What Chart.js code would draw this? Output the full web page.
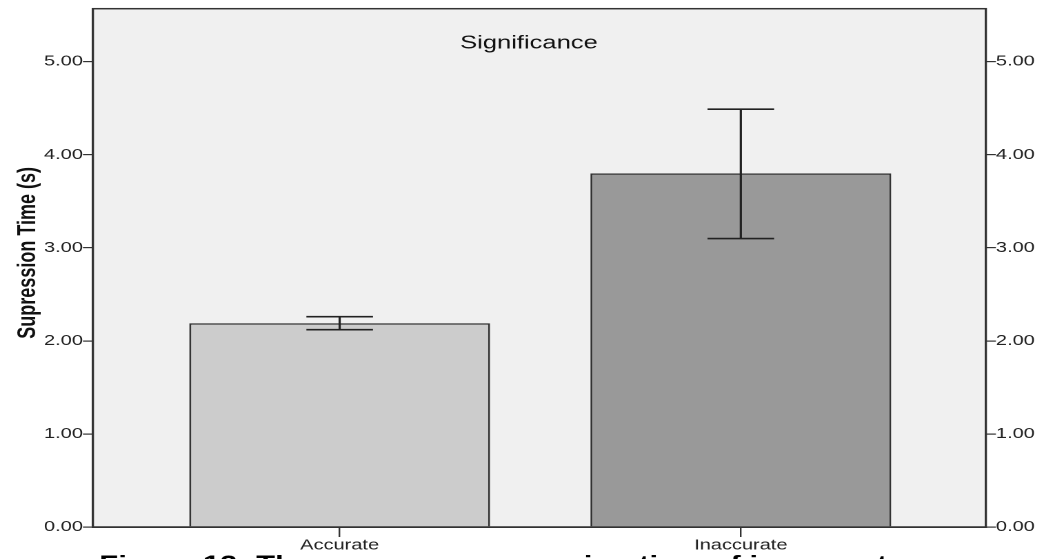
<!DOCTYPE html>
<html>
<head>
<meta charset="utf-8">
<script src="https://cdn.jsdelivr.net/npm/chart.js@4.4.1/dist/chart.umd.min.js"></script>
<style>
  html, body { margin: 0; padding: 0; background: #ffffff; overflow: hidden; }
  #wrap { position: absolute; left: 0; top: 0; width: 757px; height: 559px;
          transform: scaleX(1.3791); transform-origin: 0 0; }
</style>
</head>
<body>
<div id="wrap"><canvas id="chart" width="757" height="559"></canvas></div>
<script>
// データ
const categories = ['Accurate', 'Inaccurate'];
const meanTimes = [2.19, 3.80];
const errLow = [2.12, 3.10];
const errHigh = [2.26, 4.49];
const yTickValues = [0, 1, 2, 3, 4, 5];
const chartTitle = 'Significance';
const yAxisTitle = 'Supression Time (s)';
const captionText = 'Figure 12: The average suppression time of inaccurate';

Chart.defaults.font.family = "'Liberation Sans', Arial, sans-serif";

// プロット領域の背景と枠
const plotBackground = {
  id: 'plotBackground',
  beforeDraw(chart) {
    const { ctx, chartArea: a } = chart;
    ctx.save();
    ctx.fillStyle = '#f0f0f0';
    ctx.fillRect(a.left, a.top, a.right - a.left, a.bottom - a.top);
    ctx.restore();
  },
  afterDatasetsDraw(chart) {
    const { ctx, chartArea: a } = chart;
    ctx.save();
    ctx.strokeStyle = '#333';
    ctx.lineWidth = 1.5;
    ctx.strokeRect(a.left, a.top, a.right - a.left, a.bottom - a.top);
    ctx.restore();
  }
};

// エラーバー
const errorBars = {
  id: 'errorBars',
  afterDatasetsDraw(chart) {
    const { ctx, scales: { x, y } } = chart;
    const capHalf = x.getPixelForValue(1.083) - x.getPixelForValue(1);
    ctx.save();
    ctx.strokeStyle = '#222';
    ctx.lineWidth = 1.6;
    categories.forEach((c, i) => {
      const px = x.getPixelForValue(i + 1);
      const yLo = y.getPixelForValue(errLow[i]);
      const yHi = y.getPixelForValue(errHigh[i]);
      ctx.beginPath();
      ctx.moveTo(px, yLo); ctx.lineTo(px, yHi);
      ctx.moveTo(px - capHalf, yLo); ctx.lineTo(px + capHalf, yLo);
      ctx.moveTo(px - capHalf, yHi); ctx.lineTo(px + capHalf, yHi);
      ctx.stroke();
    });
    ctx.restore();
  }
};

// タイトル、Y軸タイトル、図のキャプション
const texts = {
  id: 'texts',
  afterDraw(chart) {
    const { ctx, chartArea: a } = chart;
    ctx.save();
    ctx.fillStyle = '#111';
    ctx.textAlign = 'center';
    ctx.textBaseline = 'alphabetic';
    ctx.font = "18.5px 'Liberation Sans', Arial, sans-serif";
    ctx.fillText(chartTitle, (a.left + a.right) / 2 - 7.6, a.top + 40);

    ctx.save();
    ctx.translate(20.3, (a.top + a.bottom) / 2 - 15);
    ctx.rotate(-Math.PI / 2);
    ctx.textBaseline = 'middle';
    ctx.font = "bold 18px 'Liberation Sans', Arial, sans-serif";
    ctx.fillText(yAxisTitle, 0, 0);
    ctx.restore();

    ctx.textAlign = 'left';
    ctx.fillStyle = '#000';
    ctx.font = "bold 22.5px 'Liberation Sans', Arial, sans-serif";
    ctx.fillText(captionText, 72, 571);
    ctx.restore();
  }
};

const yTicksSetup = s => { s.ticks = yTickValues.map(v => ({ value: v })); };

new Chart(document.getElementById('chart'), {
  type: 'bar',
  data: {
    datasets: [{
      data: meanTimes.map((v, i) => ({ x: i + 1, y: v })),
      backgroundColor: ['#cccccc', '#999999'],
      borderColor: '#333',
      borderWidth: 1.5,
      barPercentage: 0.75,
      categoryPercentage: 1,
      yAxisID: 'y'
    }]
  },
  options: {
    responsive: false,
    animation: false,
    devicePixelRatio: 2,
    layout: { padding: { top: 6, left: 0, right: 0, bottom: 0 } },
    plugins: { legend: { display: false }, title: { display: false }, tooltip: { enabled: false } },
    scales: {
      x: {
        type: 'linear', min: 0.385, max: 2.611, offset: false,
        afterBuildTicks: s => { s.ticks = categories.map((c, i) => ({ value: i + 1 })); },
        afterFit: s => { s.height = 32; },
        ticks: { callback: v => categories[v - 1], font: { size: 14.5 }, color: '#222', padding: 0, autoSkip: false, maxRotation: 0 },
        grid: { offset: false, drawOnChartArea: false, drawTicks: true, tickLength: 10, color: '#333', lineWidth: 1.2 },
        border: { color: '#333', width: 1.5 }
      },
      y: {
        position: 'left', min: 0, max: 5.57,
        afterBuildTicks: yTicksSetup,
        afterFit: s => { s.width = 67.4; },
        ticks: { callback: v => v.toFixed(2), font: { size: 14.5 }, color: '#222', padding: 0 },
        grid: { drawOnChartArea: false, tickLength: 7.25, color: '#333', lineWidth: 1.2 },
        border: { color: '#333', width: 1.5 }
      },
      y2: {
        position: 'right', min: 0, max: 5.57,
        afterBuildTicks: yTicksSetup,
        afterFit: s => { s.width = 42.1; },
        ticks: { callback: v => v.toFixed(2), font: { size: 14.5 }, color: '#222', padding: 0 },
        grid: { drawOnChartArea: false, tickLength: 7.25, color: '#333', lineWidth: 1.2 },
        border: { color: '#333', width: 1.5 }
      }
    }
  },
  plugins: [plotBackground, errorBars, texts]
});
</script>
</body>
</html>
